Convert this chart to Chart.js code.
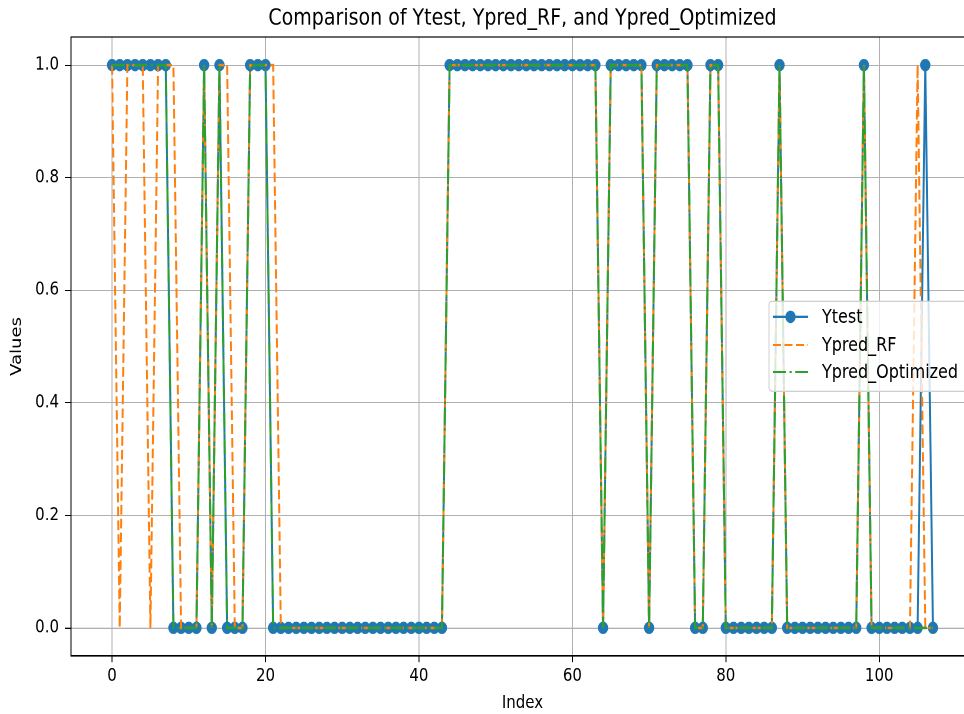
<!DOCTYPE html>
<html>
<head>
<meta charset="utf-8">
<script src="https://cdn.jsdelivr.net/npm/chart.js@4.4.1/dist/chart.umd.min.js"></script>
<style>
  html, body { margin: 0; padding: 0; background: #fff; overflow: hidden; }
  #wrap {
    position: absolute; left: 0; top: 0;
    width: 990px; height: 595px;
    transform: scaleY(1.2); transform-origin: 0 0;
  }
</style>
</head>
<body>
<div id="wrap"><canvas id="cmpChart" width="990" height="595"></canvas></div>
<script>
// COMPARISON - LINE

const ytest = [
    1, 1, 1, 1, 1, 1, 1, 1, 0, 0,
    0, 0, 1, 0, 1, 0, 0, 0, 1, 1,
    1, 0, 0, 0, 0, 0, 0, 0, 0, 0,
    0, 0, 0, 0, 0, 0, 0, 0, 0, 0,
    0, 0, 0, 0, 1, 1, 1, 1, 1, 1,
    1, 1, 1, 1, 1, 1, 1, 1, 1, 1,
    1, 1, 1, 1, 0, 1, 1, 1, 1, 1,
    0, 1, 1, 1, 1, 1, 0, 0, 1, 1,
    0, 0, 0, 0, 0, 0, 0, 1, 0, 0,
    0, 0, 0, 0, 0, 0, 0, 0, 1, 0,
    0, 0, 0, 0, 0, 0, 1, 0
];

const ypredRF = [
    1, 0, 1, 1, 1, 0, 1, 1, 1, 0,
    0, 0, 1, 0, 1, 1, 0, 0, 1, 1,
    1, 1, 0, 0, 0, 0, 0, 0, 0, 0,
    0, 0, 0, 0, 0, 0, 0, 0, 0, 0,
    0, 0, 0, 0, 1, 1, 1, 1, 1, 1,
    1, 1, 1, 1, 1, 1, 1, 1, 1, 1,
    1, 1, 1, 1, 0, 1, 1, 1, 1, 1,
    0, 1, 1, 1, 1, 1, 0, 0, 1, 1,
    0, 0, 0, 0, 0, 0, 0, 1, 0, 0,
    0, 0, 0, 0, 0, 0, 0, 0, 1, 0,
    0, 0, 0, 0, 0, 1, 0, 0
];

const ypredOpt = [
    1, 1, 1, 1, 1, 1, 1, 1, 0, 0,
    0, 0, 1, 0, 1, 0, 0, 0, 1, 1,
    1, 0, 0, 0, 0, 0, 0, 0, 0, 0,
    0, 0, 0, 0, 0, 0, 0, 0, 0, 0,
    0, 0, 0, 0, 1, 1, 1, 1, 1, 1,
    1, 1, 1, 1, 1, 1, 1, 1, 1, 1,
    1, 1, 1, 1, 0, 1, 1, 1, 1, 1,
    0, 1, 1, 1, 1, 1, 0, 0, 1, 1,
    0, 0, 0, 0, 0, 0, 0, 1, 0, 0,
    0, 0, 0, 0, 0, 0, 0, 0, 1, 0,
    0, 0, 0, 0, 0, 0, 0, 0
];

const seriesNames = ["Ytest", "Ypred_RF", "Ypred_Optimized"];
const xTicks = [0, 20, 40, 60, 80, 100];
const yTicks = [0, 0.2, 0.4, 0.6, 0.8, 1.0];

const FONT = '"DejaVu Sans", "Liberation Sans", sans-serif';

const toPoints = arr => arr.map((v, i) => ({ x: i, y: v }));

const cmpData = {
    datasets: [
        {
            label: seriesNames[0],
            data: toPoints(ytest),
            borderColor: "#1f77b4",
            backgroundColor: "#1f77b4",
            borderWidth: 2,
            pointRadius: 5.2,
            pointBorderWidth: 0,
            pointBackgroundColor: "#1f77b4",
            order: 3
        },
        {
            label: seriesNames[1],
            data: toPoints(ypredRF),
            borderColor: "#ff7f0e",
            backgroundColor: "#ff7f0e",
            borderWidth: 2,
            borderDash: [8, 3.5],
            pointRadius: 0,
            order: 2
        },
        {
            label: seriesNames[2],
            data: toPoints(ypredOpt),
            borderColor: "#2ca02c",
            backgroundColor: "#2ca02c",
            borderWidth: 2,
            borderDash: [13, 3.5, 2.2, 3.5],
            pointRadius: 0,
            order: 1
        }
    ]
};

// top/right spines
const frame = {
    id: 'frame',
    afterDatasetsDraw(chart) {
        const { ctx, chartArea: a } = chart;
        ctx.save();
        ctx.strokeStyle = '#000';
        ctx.lineWidth = 1;
        ctx.strokeRect(a.left, a.top, a.right - a.left, a.bottom - a.top);
        ctx.restore();
    }
};

// matplotlib style legend box inside the plot
const boxLegend = {
    id: 'boxLegend',
    afterDraw(chart) {
        const ctx = chart.ctx;
        const left = 769, top = 251, bottom = 326, right = 976;
        const rows = [264, 287.5, 310];
        ctx.save();
        ctx.beginPath();
        ctx.roundRect(left, top, right - left, bottom - top, 3);
        ctx.fillStyle = 'rgba(255,255,255,0.8)';
        ctx.fill();
        ctx.strokeStyle = '#d0d0d0';
        ctx.lineWidth = 1;
        ctx.stroke();

        chart.data.datasets.forEach((ds, i) => {
            const y = rows[i];
            ctx.beginPath();
            ctx.setLineDash(ds.borderDash || []);
            ctx.strokeStyle = ds.borderColor;
            ctx.lineWidth = ds.borderWidth;
            ctx.moveTo(773, y);
            ctx.lineTo(808, y);
            ctx.stroke();
            ctx.setLineDash([]);
            if (ds.pointRadius > 0) {
                ctx.beginPath();
                ctx.fillStyle = ds.pointBackgroundColor;
                ctx.arc(790.5, y, ds.pointRadius, 0, Math.PI * 2);
                ctx.fill();
            }
            ctx.fillStyle = '#000';
            ctx.font = '16px ' + FONT;
            ctx.textBaseline = 'middle';
            ctx.fillText(ds.label, 822, y + 1);
        });
        ctx.restore();
    }
};

const cmpChart = new Chart(document.getElementById("cmpChart"), {
    type: 'line',
    data: cmpData,
    plugins: [frame, boxLegend],
    options: {
        responsive: false,
        animation: false,
        devicePixelRatio: 2,
        layout: { padding: { left: 0, right: 16, top: 0, bottom: 0 } },
        elements: { line: { tension: 0 } },
        plugins: {
            legend: { display: false },
            tooltip: { enabled: false },
            title: {
                display: true,
                text: "Comparison of Ytest, Ypred_RF, and Ypred_Optimized",
                fullSize: false,
                color: '#000',
                font: { family: FONT, size: 19, weight: 'normal' },
                padding: { top: 4, bottom: 4 }
            }
        },
        scales: {
            x: {
                type: 'linear',
                min: -5.35,
                max: 112.35,
                afterBuildTicks: s => { s.ticks = xTicks.map(v => ({ value: v })); },
                afterFit: s => { s.height = 48.3; },
                grid: { color: '#b0b0b0', lineWidth: 1, tickColor: '#000', tickLength: 5 },
                border: { color: '#000', width: 1 },
                ticks: { color: '#000', padding: 3, maxRotation: 0, font: { family: FONT, size: 15 } },
                title: {
                    display: true, text: 'Index', color: '#000',
                    font: { family: FONT, size: 15 }, padding: { top: 0, bottom: 0 }
                }
            },
            y: {
                min: -0.05,
                max: 1.05,
                afterBuildTicks: s => { s.ticks = yTicks.map(v => ({ value: v })); },
                afterFit: s => { s.width = 71; },
                grid: { color: '#b0b0b0', lineWidth: 1, tickColor: '#000', tickLength: 6 },
                border: { color: '#000', width: 1 },
                ticks: {
                    color: '#000', padding: 6,
                    font: { family: FONT, size: 15 },
                    callback: v => v.toFixed(1)
                },
                title: {
                    display: true, text: 'Values', color: '#000',
                    font: { family: FONT, size: 15 }, padding: { top: 8, bottom: 0 }
                }
            }
        }
    }
});
</script>
</body>
</html>
